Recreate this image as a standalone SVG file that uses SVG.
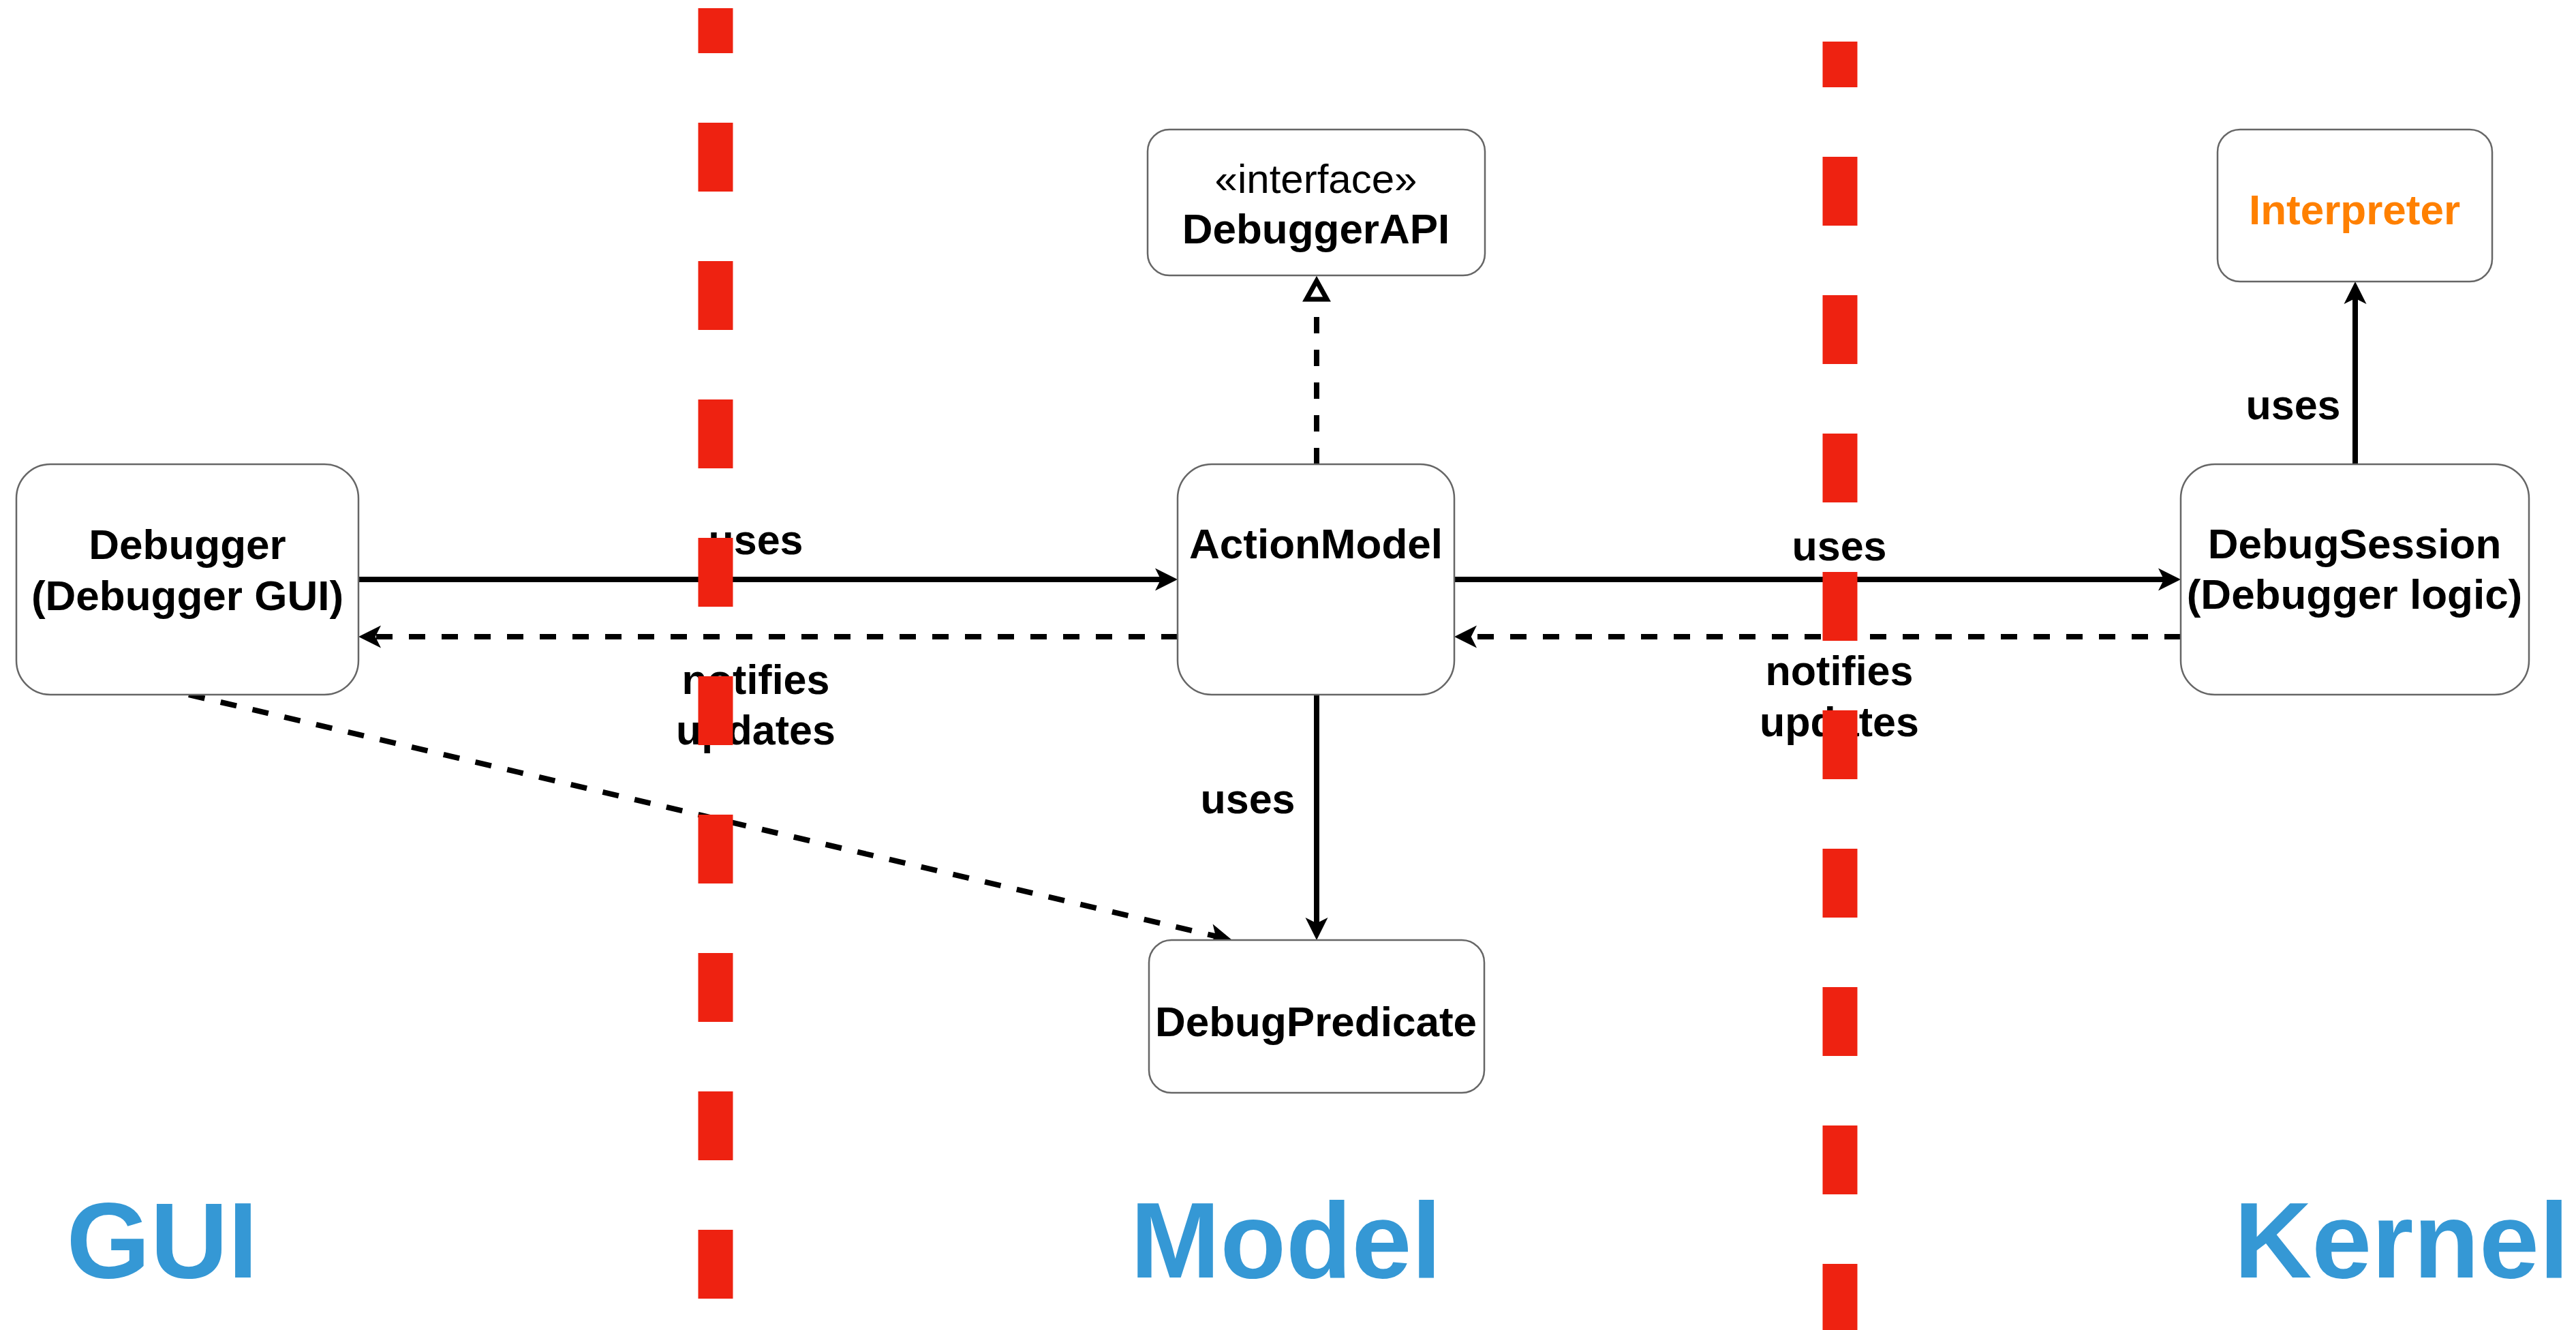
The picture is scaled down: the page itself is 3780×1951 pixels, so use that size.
<svg xmlns="http://www.w3.org/2000/svg" width="3780" height="1951" viewBox="0 0 3780 1951">
<style>
.box{fill:#fff;stroke:#666;stroke-width:2.5}
.t{font-family:"Liberation Sans",Arial,Helvetica,sans-serif;font-weight:bold;font-size:62px;text-anchor:middle;fill:#000}
.reg{font-weight:normal;font-size:60px}
.el{font-size:61px}
.orange{fill:#FF8000}
.edge{stroke:#000;stroke-width:8;fill:none}
.dash{stroke-dasharray:24 24}
.sep{stroke:#EE2211;stroke-width:51;fill:none;stroke-dasharray:101 102}
.layer{font-size:158px;fill:#3598D5}
</style>
<defs>
<marker id="arr" viewBox="-10 -18 36 36" markerWidth="36" markerHeight="36" refX="0" refY="0" orient="auto" markerUnits="userSpaceOnUse">
<path d="M24,0 L-9,-16.5 L-0.75,0 L-9,16.5 Z" fill="#000"/>
</marker>
</defs>
<rect width="3780" height="1951" fill="#fff"/>

<g id="connectors">
<path class="edge" d="M526,850 H1704" marker-end="url(#arr)"/>
<path class="edge dash" d="M1728,934 H550" marker-end="url(#arr)"/>
<path class="edge" d="M2134,850 H3176" marker-end="url(#arr)"/>
<path class="edge dash" d="M3200,934 H2158" marker-end="url(#arr)"/>
<path class="edge dash" d="M1932,681 V439"/>
<path d="M1932,412 L1917,439 L1947,439 Z" fill="#fff" stroke="#000" stroke-width="7" stroke-linejoin="miter"/>
<path class="edge" d="M1932,1019 V1355" marker-end="url(#arr)"/>
<path class="edge dash" d="M277,1019 L1784.6,1373.5" marker-end="url(#arr)"/>
<path class="edge" d="M3456,681 V437" marker-end="url(#arr)"/>
<text class="t el" x="1109" y="813">uses</text>
<text class="t el" x="1109" y="1018">notifies</text>
<text class="t el" x="1109" y="1092">updates</text>
<text class="t el" x="2699" y="822">uses</text>
<text class="t el" x="2699" y="1005">notifies</text>
<text class="t el" x="2699" y="1080">updates</text>
<text class="t el" x="1831" y="1193">uses</text>
<text class="t el" x="3365" y="615">uses</text>
</g>

<g id="node-debugger">
<rect class="box" x="24" y="681" width="502" height="338" rx="50" ry="50"/>
<text class="t" x="275" y="820">Debugger</text>
<text class="t" x="275" y="895">(Debugger GUI)</text>
</g>
<g id="node-actionmodel">
<rect class="box" x="1728" y="681" width="406" height="338" rx="50" ry="50"/>
<text class="t" x="1931" y="819">ActionModel</text>
</g>
<g id="node-debugsession">
<rect class="box" x="3200" y="681" width="511" height="338" rx="50" ry="50"/>
<text class="t" x="3455" y="819">DebugSession</text>
<text class="t" x="3455" y="893">(Debugger logic)</text>
</g>
<g id="node-debuggerapi">
<rect class="box" x="1684" y="190" width="495" height="214" rx="32" ry="32"/>
<text class="t reg" x="1931" y="283">«interface»</text>
<text class="t" x="1931" y="357">DebuggerAPI</text>
</g>
<g id="node-interpreter">
<rect class="box" x="3254" y="190" width="403" height="223" rx="33" ry="33"/>
<text class="t orange" x="3455" y="329">Interpreter</text>
</g>
<g id="node-debugpredicate">
<rect class="box" x="1686" y="1379" width="492" height="224" rx="33" ry="33"/>
<text class="t" x="1931" y="1520">DebugPredicate</text>
</g>

<g id="layers">
<text class="t layer" x="238" y="1874">GUI</text>
<text class="t layer" x="1887" y="1874">Model</text>
<text class="t layer" x="3524" y="1874">Kernel</text>
</g>

<g id="separators">
<line class="sep" x1="1050" y1="12" x2="1050" y2="1951" stroke-dashoffset="35"/>
<line class="sep" x1="2700" y1="61" x2="2700" y2="1951" stroke-dashoffset="34"/>
</g>
</svg>
